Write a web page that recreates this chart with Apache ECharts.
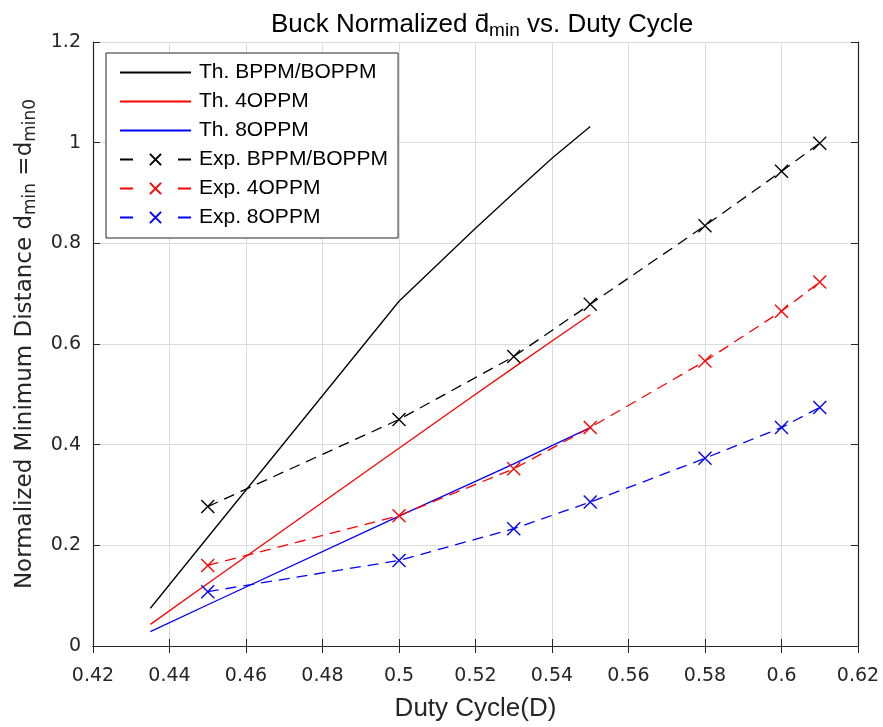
<!DOCTYPE html>
<html><head><meta charset="utf-8">
<script src="https://cdn.jsdelivr.net/npm/echarts@6/dist/echarts.min.js"></script>
<style>html,body{margin:0;padding:0;background:#fff}#c{width:883px;height:727px}</style>
</head><body><div id="c"></div>
<script>
var thX = [0.435, 0.45, 0.5, 0.52, 0.53, 0.54, 0.55];
var thBppm = [0.075, 0.216, 0.685, 0.830, 0.900, 0.969, 1.032];
var th4 = [0.043, 0.124, 0.393, 0.500, 0.553, 0.606, 0.658];
var th8 = [0.0285, 0.082, 0.258, 0.327, 0.362, 0.398, 0.434];
var expX = [0.45, 0.5, 0.53, 0.55, 0.58, 0.6, 0.61];
var expBppm = [0.277, 0.450, 0.575, 0.679, 0.835, 0.943, 0.999];
var exp4 = [0.160, 0.259, 0.352, 0.434, 0.566, 0.665, 0.723];
var exp8 = [0.108, 0.170, 0.233, 0.286, 0.373, 0.434, 0.474];
var names = ['Th. BPPM/BOPPM','Th. 4OPPM','Th. 8OPPM','Exp. BPPM/BOPPM','Exp. 4OPPM','Exp. 8OPPM'];

function pairs(xs, ys){ return xs.map(function(x,i){return [x, ys[i]];}); }
var FONT = 'Liberation Sans';
var TFONT = 'DejaVu Sans';
var cross = 'path://M0,0L10,10M0,10L10,0';
function th(name, ys, col){
  return {name:name, type:'line', data:pairs(thX, ys), symbol:'none', showSymbol:false,
    lineStyle:{color:col, width:1.3}, itemStyle:{color:'rgba(0,0,0,0)', borderWidth:0}, silent:true, z:3};
}
function ex(name, ys, col){
  return {name:name, type:'line', data:pairs(expX, ys), symbol:cross, symbolSize:13, showSymbol:true,
    lineStyle:{color:col, width:1.3, type:[11,7]},
    itemStyle:{color:'rgba(0,0,0,0)', borderColor:col, borderWidth:1.4}, silent:true, z:4};
}
var legendData = names.map(function(n, i){
  return i < 3 ? {name:n} : {name:n, lineStyle:{type:[13,45]}};
});
var axisLine = {show:true, lineStyle:{color:'#262626', width:1.2}};
var tick = {show:true, inside:true, length:7, lineStyle:{color:'#262626'}};
var chart = echarts.init(document.getElementById('c'), null, {renderer:'canvas'});
chart.setOption({
  animation:false,
  backgroundColor:'#fff',
  title:{
    text:'Buck Normalized d\u0304{s|min} vs. Duty Cycle',
    left:477, top:4, textAlign:'center',
    textStyle:{fontFamily:FONT, fontSize:26, fontWeight:'normal', color:'#000',
      rich:{s:{fontFamily:FONT, fontSize:19, color:'#000', padding:[12,0,0,0]}}}
  },
  grid:{left:93, right:25, top:42, bottom:79, containLabel:false},
  legend:{
    orient:'vertical', left:106, top:53,
    padding:[9,10,10,13],
    backgroundColor:'#fff', borderColor:'#262626', borderWidth:1, borderRadius:0,
    itemWidth:71, itemHeight:14, itemGap:8,
    textStyle:{fontFamily:FONT, fontSize:21, color:'#000', padding:[0,0,0,3]},
    data:legendData
  },
  xAxis:[{
    type:'value', min:0.42, max:0.62, interval:0.02,
    name:'Duty Cycle(D)', nameLocation:'middle', nameGap:50,
    nameTextStyle:{fontFamily:FONT, fontSize:26, color:'#262626'},
    axisLine:axisLine, axisTick:tick,
    axisLabel:{fontFamily:TFONT, fontSize:19, color:'#262626', margin:21,
      formatter:function(v){return String(+v.toFixed(2));}},
    splitLine:{show:true, lineStyle:{color:'#dcdcdc', width:1}}
  },{
    type:'value', position:'top', min:0.42, max:0.62, interval:0.02,
    axisLine:axisLine, axisTick:tick,
    axisLabel:{show:false}, splitLine:{show:false}
  }],
  yAxis:[{
    type:'value', min:0, max:1.2, interval:0.2,
    name:'Normalized Minimum Distance d{s|min} =d{s|min0}', nameLocation:'middle', nameGap:54,
    nameTextStyle:{fontFamily:TFONT, fontSize:23, color:'#262626',
      rich:{s:{fontFamily:TFONT, fontSize:17, color:'#262626', padding:[11,0,0,0]}}},
    axisLine:axisLine, axisTick:tick,
    axisLabel:{fontFamily:TFONT, fontSize:19, color:'#262626', margin:12,
      formatter:function(v){return String(+v.toFixed(1));}},
    splitLine:{show:true, lineStyle:{color:'#dcdcdc', width:1}}
  },{
    type:'value', position:'right', min:0, max:1.2, interval:0.2,
    axisLine:axisLine, axisTick:tick,
    axisLabel:{show:false}, splitLine:{show:false}
  }],
  series:[
    th(names[0], thBppm, '#000000'),
    th(names[1], th4, '#ff0000'),
    th(names[2], th8, '#0000ff'),
    ex(names[3], expBppm, '#000000'),
    ex(names[4], exp4, '#ff0000'),
    ex(names[5], exp8, '#0000ff')
  ]
});
</script></body></html>
